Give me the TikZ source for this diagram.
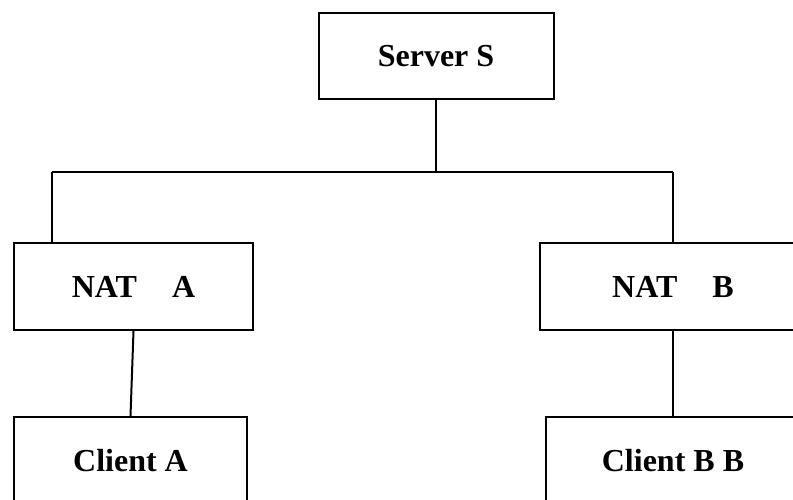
\documentclass[tikz,border=0pt]{standalone}
\usepackage{fontspec}
\setmainfont{Liberation Serif}
\begin{document}
\begin{tikzpicture}[x=1pt,y=-1pt,
  box/.style={draw=black,line width=2pt,rectangle,inner sep=0pt,
    font=\fontsize{32}{38}\selectfont\bfseries},
  conn/.style={draw=black,line width=2pt}]
\useasboundingbox (0,0) rectangle (793,499);
\clip (0,0) rectangle (793,499);
\node[box,minimum width=235pt,minimum height=86pt] (server) at (436,56) {Server S};
\node[box,minimum width=239pt,minimum height=87pt] (natA) at (133.5,286.5) {NAT\hspace{35pt}A};
\node[box,minimum width=266pt,minimum height=87pt] (natB) at (673,286.5) {NAT\hspace{35pt}B};
\node[box,minimum width=233pt,minimum height=88pt] (clientA) at (130.5,461) {Client A};
\node[box,minimum width=254pt,minimum height=88pt] (clientB) at (673,461) {Client B B};
\coordinate (j) at (436,172);
\coordinate (jA) at (52,172);
\coordinate (jB) at (673,172);
\draw[conn] (server.south) -- (j);
\draw[conn] (jA) -- (jB);
\draw[conn] (jA) -- (jA |- natA.north);
\draw[conn] (jB) -- (natB.north);
\draw[conn] (natA.south) -- (clientA.north);
\draw[conn] (natB.south) -- (clientB.north);
\end{tikzpicture}
\end{document}
